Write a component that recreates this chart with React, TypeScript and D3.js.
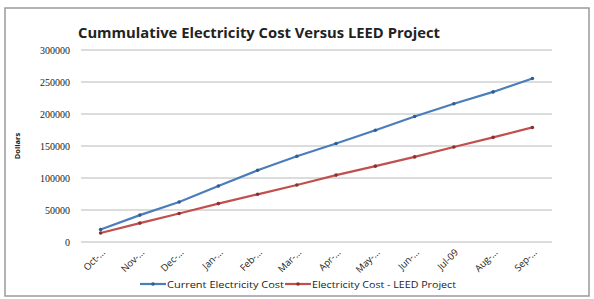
import React, { useEffect, useRef } from 'react';
import * as d3 from 'd3';

const months = ['Oct-…', 'Nov-…', 'Dec-…', 'Jan-…', 'Feb-…', 'Mar-…', 'Apr-…', 'May-…', 'Jun-…', 'Jul-09', 'Aug-…', 'Sep-…'];
const currentCost = [19500, 42000, 62500, 87500, 112000, 134000, 154000, 174500, 196000, 216000, 234500, 255500];
const leedCost = [14000, 29500, 44500, 60000, 74500, 89000, 104500, 118500, 133000, 148500, 163500, 179000];
const yTicks = [0, 50000, 100000, 150000, 200000, 250000, 300000];

const seriesList = [
    { name: 'Current Electricity Cost', values: currentCost, color: '#4a7ebb', dot: '#2f5d8f' },
    { name: 'Electricity Cost - LEED Project', values: leedCost, color: '#c0504d', dot: '#8f2e2b' },
];

const App = () => {
    const ref = useRef<SVGSVGElement>(null);

    const width = 594;
    const height = 299;
    // plot area
    const plot_x0 = 81;
    const plot_x1 = 552;
    const plot_y0 = 50;
    const plot_y1 = 242;

    useEffect(() => {
        const svg = d3.select(ref.current);
        svg.selectAll('*').remove();

        svg.append('rect')
            .attr('width', width).attr('height', height)
            .attr('fill', '#ffffff');

        // outer frame
        svg.append('rect')
            .attr('x', 5).attr('y', 8)
            .attr('width', 584).attr('height', 288)
            .attr('fill', 'none')
            .attr('stroke', '#9a9a9a')
            .attr('stroke-width', 1.5);

        const xScale = d3.scaleBand()
            .domain(months)
            .range([plot_x0, plot_x1]);

        const yScale = d3.scaleLinear()
            .domain([0, 300000])
            .range([plot_y1, plot_y0]);

        // gridlines
        svg.append('g')
            .selectAll('line')
            .data(yTicks)
            .enter().append('line')
            .attr('x1', plot_x0).attr('x2', plot_x1)
            .attr('y1', d => yScale(d)).attr('y2', d => yScale(d))
            .attr('stroke', '#d0d0d0')
            .attr('stroke-width', 1.6);

        // y axis labels
        svg.append('g')
            .selectAll('text')
            .data(yTicks)
            .enter().append('text')
            .attr('x', 70)
            .attr('y', d => yScale(d) + 3.5)
            .attr('text-anchor', 'end')
            .style('font-family', '"Liberation Serif", serif')
            .style('font-size', '10px')
            .attr('fill', '#222')
            .text(d => d);

        // y label
        svg.append('text')
            .attr('transform', `translate(20,${(plot_y0 + plot_y1) / 2}) rotate(-90)`)
            .attr('text-anchor', 'middle')
            .style('font-family', '"Open Sans", sans-serif')
            .style('font-size', '7.5px')
            .style('font-weight', 'bold')
            .attr('fill', '#222')
            .text('Dollars');

        // x labels
        svg.append('g')
            .selectAll('text')
            .data(months)
            .enter().append('text')
            .attr('transform', d => `translate(${xScale(d)! + xScale.bandwidth() / 2 + 5},${plot_y1 + 11}) rotate(-45)`)
            .attr('text-anchor', 'end')
            .style('font-family', '"Open Sans", sans-serif')
            .style('font-size', '9.5px')
            .attr('fill', '#222')
            .text(d => d);

        const line = d3.line<number>()
            .x((d, i) => xScale(months[i])! + xScale.bandwidth() / 2)
            .y(d => yScale(d));

        seriesList.forEach(s => {
            svg.append('path')
                .datum(s.values)
                .attr('d', line)
                .attr('fill', 'none')
                .attr('stroke', s.color)
                .attr('stroke-width', 2.2);

            svg.append('g')
                .selectAll('circle')
                .data(s.values)
                .enter().append('circle')
                .attr('cx', (d, i) => xScale(months[i])! + xScale.bandwidth() / 2)
                .attr('cy', d => yScale(d))
                .attr('r', 1.8)
                .attr('fill', s.dot);
        });

        // title
        svg.append('text')
            .attr('x', 78)
            .attr('y', 38)
            .style('font-family', '"Open Sans", sans-serif')
            .style('font-size', '14px')
            .style('font-weight', 'bold')
            .attr('fill', '#222')
            .attr('textLength', 362)
            .attr('lengthAdjust', 'spacingAndGlyphs')
            .text('Cummulative Electricity Cost Versus LEED Project');

        // legend
        const legend = [
            { x: 140, textWidth: 117 },
            { x: 285, textWidth: 144 },
        ];
        seriesList.forEach((s, i) => {
            const g = svg.append('g')
                .attr('transform', `translate(${legend[i].x},284)`);
            g.append('line')
                .attr('x1', 0).attr('x2', 26)
                .attr('y1', 0).attr('y2', 0)
                .attr('stroke', s.color)
                .attr('stroke-width', 2.2);
            g.append('circle')
                .attr('cx', 13).attr('cy', 0).attr('r', 1.8)
                .attr('fill', s.dot);
            g.append('text')
                .attr('x', 27)
                .attr('y', 3.5)
                .style('font-family', '"Open Sans", sans-serif')
                .style('font-size', '9.5px')
                .attr('fill', '#222')
                .attr('textLength', legend[i].textWidth)
                .attr('lengthAdjust', 'spacingAndGlyphs')
                .text(s.name);
        });
    }, []);

    return <svg ref={ref} width={width} height={height}
        style={{ position: 'absolute', left: 0, top: 0 }}></svg>;
};

export default App;
